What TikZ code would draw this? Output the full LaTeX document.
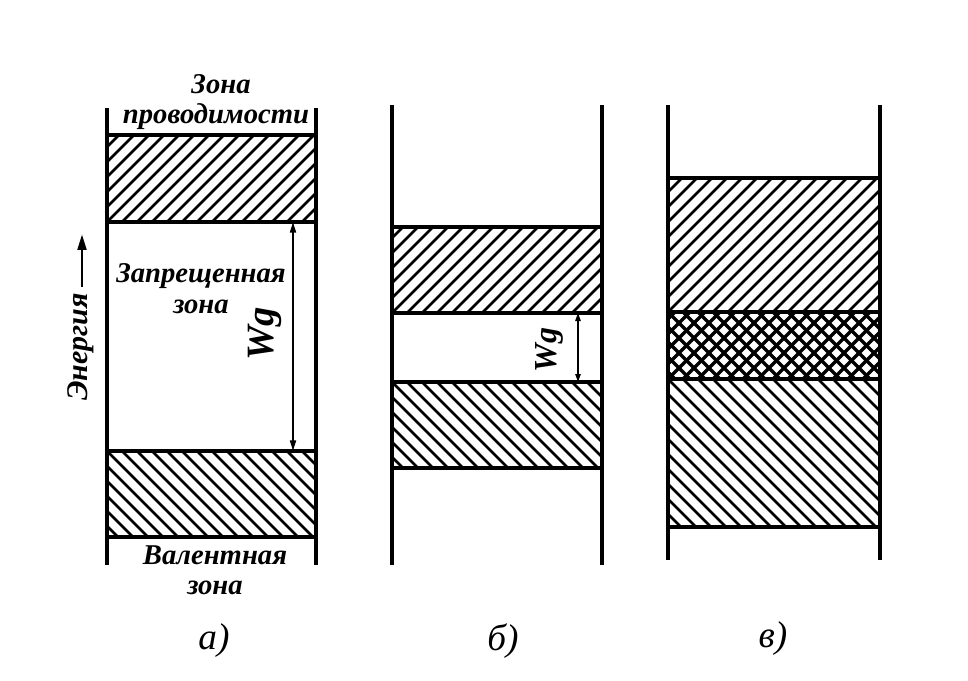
\documentclass[tikz,border=0pt]{standalone}
\usepackage{fontspec}
\setmainfont{Liberation Serif}
\usetikzlibrary{arrows.meta}
\newcommand\hatchup[5]{%
  \begin{scope}
    \clip (#1,#2) rectangle (#3,#4);
    \foreach \i in {-330,-315,...,330} \draw[hatchline] ({#1+\i},#4) -- ++(300,-300);
  \end{scope}}
\newcommand\hatchdown[5]{%
  \begin{scope}
    \clip (#1,#2) rectangle (#3,#4);
    \foreach \i in {-330,-315,...,330} \draw[hatchline] ({#1+\i},#2) -- ++(300,300);
  \end{scope}}
\newcommand\crosshatch[4]{%
  \begin{scope}
    \clip (#1,#2) rectangle (#3,#4);
    \foreach \i in {-330,-315,...,330} {
      \draw[crossline] ({#1+\i},#4) -- ++(300,-300);
      \draw[crossline] ({#1+\i},#2) -- ++(300,300);}
  \end{scope}}
\begin{document}
\begin{tikzpicture}[x=0.75pt,y=-0.75pt,
  wall/.style={line width=2.4pt},
  bandedge/.style={line width=2.4pt},
  hatchline/.style={line width=1.9pt},
  crossline/.style={line width=2.4pt},
  lbl/.style={font=\fontsize{21.5}{23}\selectfont\itshape\bfseries, inner sep=0pt},
  sublbl/.style={font=\fontsize{28}{30}\selectfont\itshape, inner sep=0pt},
  gaparrow/.style={line width=1.4pt, {Triangle[length=8pt,width=4.5pt]}-{Triangle[length=8pt,width=4.5pt]}}]
\useasboundingbox (0,0) rectangle (968,681);
\fill[white] (0,0) rectangle (968,681);

% ---------- panel a
\hatchup{107}{135}{316}{222}{}
\hatchdown{107}{451}{316}{537}{}
\draw[wall] (107,108) -- (107,565);
\draw[wall] (316,108) -- (316,565);
\draw[bandedge] (107,135) -- (316,135);
\draw[bandedge] (107,222) -- (316,222);
\draw[bandedge] (107,451) -- (316,451);
\draw[bandedge] (107,537) -- (316,537);
\coordinate (a1) at (293,222);
\coordinate (a2) at (293,451);
\draw[gaparrow] (a1) -- (a2);
\node[lbl, font=\fontsize{29}{31}\selectfont\itshape\bfseries, rotate=90] (wga) at (265,334) {Wg};
\node[lbl] (zt1) at (221,84) {Зона};
\node[lbl] (zt2) at (216,117) {проводимости};
\node[lbl] (zz1) at (201,276) {Запрещенная};
\node[lbl] (zz2) at (201,307) {зона};
\node[lbl] (zv1) at (215,555) {Валентная};
\node[lbl] (zv2) at (215,588) {зона};
\node[lbl, font=\fontsize{22.5}{24}\selectfont\itshape\bfseries, rotate=90] (en) at (81,347) {Энергия};
\coordinate (e1) at (82,287);
\coordinate (e2) at (82,234);
\draw[line width=2.2pt, -{Triangle[length=12pt,width=6.5pt]}] (e1) -- (e2);
\node[sublbl] (la) at (214,641) {а)};

% ---------- panel b
\hatchup{392}{227}{602}{313}{}
\hatchdown{392}{382}{602}{468}{}
\draw[wall] (392,105) -- (392,565);
\draw[wall] (602,105) -- (602,565);
\draw[bandedge] (392,227) -- (602,227);
\draw[bandedge] (392,313) -- (602,313);
\draw[bandedge] (392,382) -- (602,382);
\draw[bandedge] (392,468) -- (602,468);
\coordinate (b1) at (578,313);
\coordinate (b2) at (578,382);
\draw[line width=1.2pt, {Triangle[length=6pt,width=4pt]}-{Triangle[length=6pt,width=4pt]}] (b1) -- (b2);
\node[lbl, font=\fontsize{24}{26}\selectfont\itshape\bfseries, rotate=90] (wgb) at (549,350) {Wg};
\node[sublbl] (lb) at (503,641) {б)};

% ---------- panel c
\hatchup{668}{178}{880}{312}{}
\crosshatch{668}{312}{880}{379}
\hatchdown{668}{379}{880}{527}{}
\draw[wall] (668,105) -- (668,560);
\draw[wall] (880,105) -- (880,560);
\draw[bandedge] (668,178) -- (880,178);
\draw[bandedge] (668,312) -- (880,312);
\draw[bandedge] (668,379) -- (880,379);
\draw[bandedge] (668,527) -- (880,527);
\node[sublbl] (lc) at (773,639) {в)};
\end{tikzpicture}
\end{document}
